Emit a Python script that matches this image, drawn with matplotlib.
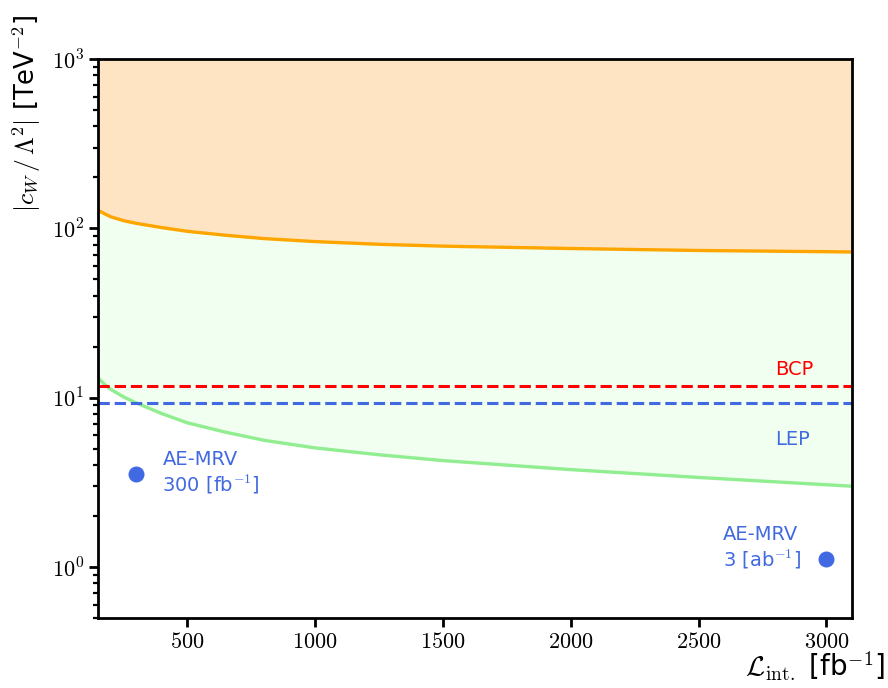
import matplotlib
matplotlib.use("Agg")
import matplotlib.pyplot as plt
from matplotlib.ticker import FuncFormatter
import math

plt.rcParams['mathtext.fontset'] = 'cm'
plt.rcParams['font.family'] = ['DejaVu Sans']

lumi = [150, 175, 200, 250, 300, 400, 500, 650, 800, 1000, 1250, 1500, 2000, 2500, 3000, 3100]
upper = [128, 122, 117, 111, 107, 101, 96, 91, 87, 83.5, 80.5, 78.5, 76, 74, 72.8, 72.5]
lower = [13.1, 12.0, 11.2, 10.1, 9.3, 8.05, 7.1, 6.25, 5.6, 5.05, 4.6, 4.25, 3.76, 3.38, 3.06, 3.0]
bcp_value = 11.8
lep_value = 9.3
point_lumi = [300, 3000]
point_vals = [3.55, 1.12]
xtick_vals = [500, 1000, 1500, 2000, 2500, 3000]
ymax = 1000

fig = plt.figure(figsize=(8.88, 6.88), dpi=100)
ax = fig.add_axes([98/888, 1-618/688, (852-98)/888, (618-59)/688])

ax.fill_between(lumi, upper, [ymax]*len(lumi), color='bisque', lw=0)
ax.fill_between(lumi, lower, upper, color='honeydew', lw=0)
ax.plot(lumi, upper, color='orange', lw=2.4)
ax.plot(lumi, lower, color='lightgreen', lw=2.4)
ax.axhline(bcp_value, color='red', ls='--', lw=2.2)
ax.axhline(lep_value, color='royalblue', ls='--', lw=2.2)
ax.plot(point_lumi, point_vals, 'o', color='royalblue', ms=10.5)

ax.text(2800, 14.6, 'BCP', color='red', fontsize=14, va='center')
ax.text(2800, 5.65, 'LEP', color='royalblue', fontsize=14, va='center')
ax.text(402, 3.6, 'AE-MRV\n300 [fb$^{-1}$]', color='royalblue', fontsize=14, va='center', linespacing=1.2)
ax.text(2594, 1.30, 'AE-MRV\n3 [ab$^{-1}$]', color='royalblue', fontsize=14, va='center', linespacing=1.2)

ax.set_yscale('log')
ax.set_xlim(150, 3100)
ax.set_ylim(0.5, ymax)
ax.set_xticks(xtick_vals)
ax.xaxis.set_major_formatter(FuncFormatter(lambda v, p: '$%d$' % v))
ax.yaxis.set_major_formatter(FuncFormatter(lambda v, p: '$10^{%d}$' % round(math.log10(v))))
ax.tick_params(which='major', length=6.5, width=2, labelsize=16)
ax.tick_params(which='minor', length=3.5, width=1.6)
for s in ax.spines.values():
    s.set_linewidth(2)

ax.set_ylabel(r'$|c_W\,/\,\Lambda^2|$ [TeV$^{-2}$]', fontsize=18.5)
ax.yaxis.set_label_coords(-0.073, 0.9016)
ax.set_xlabel(r'$\mathcal{L}_{\rm int.}$ [fb$^{-1}$]', fontsize=20, loc='right')
ax.xaxis.set_label_coords(1 + 33/754, -(650-618)/559)

fig.savefig('out.png', dpi=100)
